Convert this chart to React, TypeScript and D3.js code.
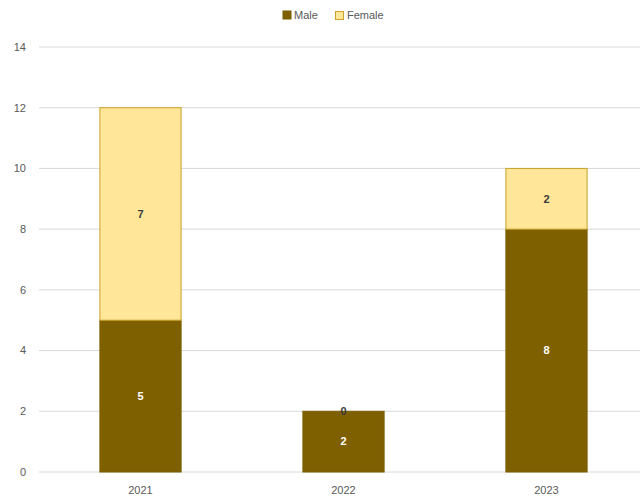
import React from "react";
import * as d3 from "d3";

const years = ["2021", "2022", "2023"];
const male = [5, 2, 8];
const female = [7, 0, 2];
const yTicks = [0, 2, 4, 6, 8, 10, 12, 14];
const seriesNames = ["Male", "Female"];

const W = 640;
const H = 500;

export default function App() {
  const x = d3.scaleBand<string>().domain(years).range([39, 648]).paddingInner(0.6).paddingOuter(0.3);
  const y = d3.scaleLinear().domain([0, 14]).range([472, 47]);
  const rows = years.map((yr, i) => ({ year: yr, Male: male[i], Female: female[i] }));
  const stack = d3.stack<any>().keys(seriesNames)(rows);
  const fills: Record<string, string> = { Male: "#7F6000", Female: "#FFE699" };
  const strokes: Record<string, string> = { Male: "#7A5C00", Female: "#C9A227" };
  const labelColors: Record<string, string> = { Male: "#FFFFFF", Female: "#3A3A3A" };
  const font = "'Liberation Sans', Arial, sans-serif";

  return (
    <svg width={W} height={H} style={{ position: "absolute", left: 0, top: 0, background: "#fff" }} fontFamily={font}>
      {yTicks.map((t) => (
        <g key={t}>
          <line x1={39} x2={640} y1={y(t)} y2={y(t)} stroke="#D9D9D9" strokeWidth={1} />
          <text x={26} y={y(t)} dy="0.35em" textAnchor="end" fontSize={11} fill="#595959">
            {t}
          </text>
        </g>
      ))}
      {stack.map((s) => (
        <g key={s.key}>
          {s.map((d, i) => {
            const x0 = x(years[i])!;
            const y0 = y(d[0]);
            const y1 = y(d[1]);
            return (
              <g key={i}>
                {y0 - y1 > 0 && (
                  <rect x={x0} y={y1} width={x.bandwidth()} height={y0 - y1} fill={fills[s.key]} stroke={strokes[s.key]} strokeWidth={1} />
                )}
                <text
                  x={x0 + x.bandwidth() / 2}
                  y={(y0 + y1) / 2}
                  dy="0.35em"
                  textAnchor="middle"
                  fontSize={11}
                  fontWeight="bold"
                  fill={y0 - y1 > 0 ? labelColors[s.key] : "#3A3A3A"}
                >
                  {d[1] - d[0]}
                </text>
              </g>
            );
          })}
        </g>
      ))}
      {years.map((yr) => (
        <text key={yr} x={x(yr)! + x.bandwidth() / 2} y={490} dy="0.35em" textAnchor="middle" fontSize={11} fill="#595959">
          {yr}
        </text>
      ))}
      <g>
        <rect x={283} y={11} width={8} height={8} fill={fills.Male} stroke={strokes.Male} />
        <text x={294} y={15} dy="0.35em" fontSize={11} fill="#595959">Male</text>
        <rect x={335.5} y={11.5} width={8} height={8} fill={fills.Female} stroke={strokes.Female} />
        <text x={347} y={15} dy="0.35em" fontSize={11} fill="#595959">Female</text>
      </g>
    </svg>
  );
}
